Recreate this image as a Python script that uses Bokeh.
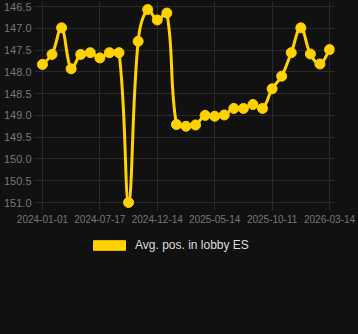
import numpy as np
from bokeh.plotting import figure
from bokeh.layouts import column
from bokeh.models import (Range1d, FixedTicker, PrintfTickFormatter, Legend, LegendItem,
                          ColumnDataSource)
from bokeh.embed import file_html
from bokeh.resources import INLINE

# ---- data ----
tick_labels = ["2024-01-01", "2024-07-17", "2024-12-14", "2025-05-14", "2025-10-11", "2026-03-14"]
tick_index = [0, 6, 12, 18, 24, 30]
avg_pos = [147.83, 147.60, 146.99, 147.93, 147.60, 147.56, 147.68, 147.56, 147.56, 151.0,
           147.30, 146.57, 146.81, 146.65, 149.21, 149.25, 149.22, 149.00, 149.02, 148.99,
           148.84, 148.84, 148.75, 148.84, 148.39, 148.10, 147.56, 146.99, 147.59, 147.82,
           147.49]
series_name = "Avg. pos. in lobby ES"
y_ticks = [146.5, 147.0, 147.5, 148.0, 148.5, 149.0, 149.5, 150.0, 150.5, 151.0]

# ---- style ----
BG = "#111111"
GRID = "#2a2a2a"
TICKC = "#777777"
GOLD = "#FFD200"
FONT = "Liberation Sans"

W, H1, H2 = 358, 230, 104
# chart area (where data lives) in px, and extra frame padding around it
CA_L, CA_R, CA_T, CA_B = 40, 329, 6, 202
PAD_L, PAD_R, PAD_T, PAD_B = 8, 5, 5, 8

x_idx = np.arange(len(avg_pos))
x0, x1 = 0, len(avg_pos) - 1
y_lo, y_hi = 146.5, 151.0
sx = (CA_R - CA_L) / (x1 - x0)
sy = (CA_B - CA_T) / (y_hi - y_lo)

p = figure(width=W, height=H1, output_backend="svg", toolbar_location=None,
           x_range=Range1d(x0 - PAD_L / sx, x1 + PAD_R / sx),
           y_range=Range1d(y_hi + PAD_B / sy, y_lo - PAD_T / sy),
           min_border_left=CA_L - PAD_L, min_border_right=W - CA_R - PAD_R,
           min_border_top=CA_T - PAD_T, min_border_bottom=H1 - CA_B - PAD_B)
p.background_fill_color = BG
p.border_fill_color = BG
p.outline_line_color = None

# smooth curve (Chart.js-like spline, tension 0.4) computed in pixel space
px = (x_idx - x0) * sx
py = (np.array(avg_pos) - y_lo) * sy
n = len(px)
cp_prev = np.zeros((n, 2))
cp_next = np.zeros((n, 2))
t = 0.4
for i in range(n):
    pi = max(i - 1, 0)
    ni = min(i + 1, n - 1)
    d01 = np.hypot(px[i] - px[pi], py[i] - py[pi])
    d12 = np.hypot(px[ni] - px[i], py[ni] - py[i])
    s = d01 + d12
    s01 = d01 / s if s else 0
    s12 = d12 / s if s else 0
    vx = px[ni] - px[pi]
    vy = py[ni] - py[pi]
    cp_prev[i] = [px[i] - t * s01 * vx, py[i] - t * s01 * vy]
    cp_next[i] = [px[i] + t * s12 * vx, py[i] + t * s12 * vy]
fw = CA_R - CA_L
fh = CA_B - CA_T
cp_prev[:, 1] = np.clip(cp_prev[:, 1], 0, fh)
cp_next[:, 1] = np.clip(cp_next[:, 1], 0, fh)
cp_prev[:, 0] = np.clip(cp_prev[:, 0], 0, fw)
cp_next[:, 0] = np.clip(cp_next[:, 0], 0, fw)

def to_x(v):
    return v / sx + x0

def to_y(v):
    return v / sy + y_lo

bz = ColumnDataSource(dict(
    x0=x_idx[:-1], y0=avg_pos[:-1], x1=x_idx[1:], y1=avg_pos[1:],
    cx0=to_x(cp_next[:-1, 0]), cy0=to_y(cp_next[:-1, 1]),
    cx1=to_x(cp_prev[1:, 0]), cy1=to_y(cp_prev[1:, 1]),
))
p.bezier(x0="x0", y0="y0", x1="x1", y1="y1", cx0="cx0", cy0="cy0", cx1="cx1", cy1="cy1",
         source=bz, line_color=GOLD, line_width=3)
p.scatter(x_idx, avg_pos, size=10, fill_color=GOLD, line_color=GOLD, line_width=1)

# axes
for ax in (p.xaxis[0], p.yaxis[0]):
    ax.axis_line_color = None
    ax.major_tick_in = 0
    ax.major_tick_out = 0
    ax.minor_tick_line_color = None
    ax.major_tick_line_color = None
    ax.major_label_text_color = TICKC
    ax.major_label_text_font = FONT

p.xaxis.ticker = FixedTicker(ticks=tick_index)
p.xaxis.major_label_overrides = {i: s for i, s in zip(tick_index, tick_labels)}
p.xaxis.major_label_text_font_size = "10px"
p.xaxis.major_label_standoff = 4
p.yaxis.ticker = FixedTicker(ticks=y_ticks)
p.yaxis.formatter = PrintfTickFormatter(format="%.1f")
p.yaxis.major_label_text_font_size = "11px"
p.yaxis.major_label_standoff = 3

p.xgrid.ticker = FixedTicker(ticks=tick_index)
p.ygrid.ticker = FixedTicker(ticks=y_ticks)
p.grid.grid_line_color = GRID
p.grid.grid_line_width = 1

# legend in its own strip below the chart
lg = figure(width=W, height=H2, output_backend="svg", toolbar_location=None,
            x_range=Range1d(0, 1), y_range=Range1d(0, 1),
            x_axis_location=None, y_axis_location=None,
            min_border=0, min_border_left=0, min_border_right=0,
            min_border_top=0, min_border_bottom=0)
lg.grid.visible = False
lg.background_fill_color = BG
lg.border_fill_color = BG
lg.outline_line_color = None
# swatch proxy kept outside the visible range; only its legend entry is shown
sw = lg.quad(left=[-2], right=[-1], top=[-1], bottom=[-2], fill_color=GOLD, line_color=GOLD)
legend = Legend(items=[LegendItem(label=series_name, renderers=[sw])],
                location=(55, 82), orientation="horizontal",
                glyph_width=40, glyph_height=12, label_height=12,
                label_standoff=6, padding=0, margin=0, spacing=0,
                background_fill_alpha=0, border_line_color=None,
                label_text_color="#dddddd", label_text_font=FONT,
                label_text_font_size="12px")
lg.add_layout(legend, "center")

layout = column(p, lg, spacing=0, styles={"background-color": BG})
open("out.html", "w").write(file_html(layout, INLINE))
